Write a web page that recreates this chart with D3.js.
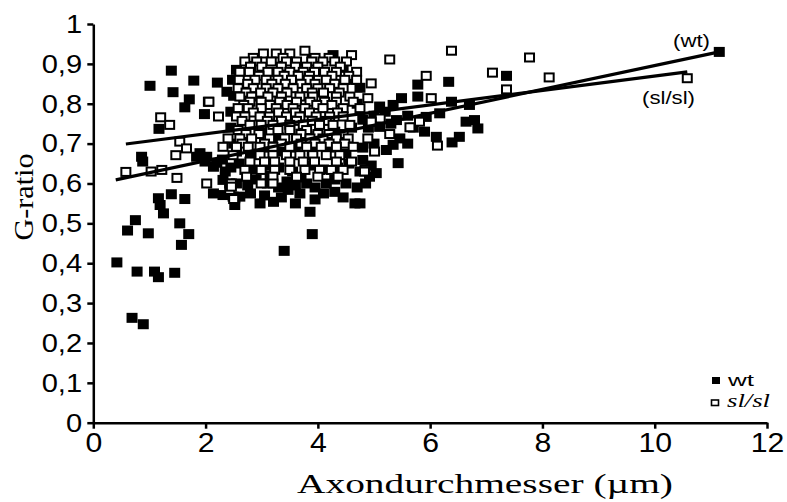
<!DOCTYPE html>
<html>
<head>
<meta charset="utf-8">
<script src="https://cdn.jsdelivr.net/npm/d3@7"></script>
<style>
  body { margin: 0; background: #fff; }
  svg { display: block; }
</style>
</head>
<body>
<div id="chart"></div>
<script>
// G-ratio vs. axon diameter, wt (filled) and sl/sl (open)
const xTicks = [0, 2, 4, 6, 8, 10, 12];
const yTicks = [0, 0.1, 0.2, 0.3, 0.4, 0.5, 0.6, 0.7, 0.8, 0.9, 1];
const yTickLabels = ["0", "0,1", "0,2", "0,3", "0,4", "0,5", "0,6", "0,7", "0,8", "0,9", "1"];

const wtPoints = [
    // lower left
    [0.42, 0.402], [0.61, 0.482], [0.75, 0.508], [0.98, 0.475], [0.78, 0.379], [1.09, 0.379],
    [1.16, 0.365], [1.45, 0.376], [0.69, 0.263], [0.89, 0.247], [1.54, 0.500], [1.70, 0.473],
    [1.57, 0.446], [1.16, 0.563], [1.19, 0.546], [1.25, 0.525], [1.39, 0.573], [1.63, 0.561],
    // upper left
    [0.86, 0.667], [0.88, 0.655], [1.01, 0.845], [1.39, 0.883], [1.42, 0.829], [1.79, 0.858],
    [1.71, 0.811], [1.63, 0.791], [1.17, 0.737], [2.21, 0.853], [2.38, 0.830], [1.98, 0.774],
    // left edge of the cluster
    [1.84, 0.667], [1.99, 0.655], [1.90, 0.676], [2.02, 0.667], [2.20, 0.652], [2.14, 0.642],
    [2.30, 0.660], [2.35, 0.630], [2.14, 0.575], [2.31, 0.571], [2.49, 0.567], [2.31, 0.609],
    [2.43, 0.600], [2.52, 0.546],
    // cluster
    [2.61, 0.567], [2.97, 0.550], [3.21, 0.554], [3.47, 0.584], [3.68, 0.575], [3.86, 0.529],
    [4.30, 0.579], [4.66, 0.550], [2.80, 0.575], [3.05, 0.570], [3.35, 0.565], [3.95, 0.560],
    [4.10, 0.575], [4.45, 0.565], [3.60, 0.550],
    [2.55, 0.600], [2.75, 0.595], [2.90, 0.610], [3.10, 0.600], [3.30, 0.590], [3.45, 0.605],
    [3.60, 0.595], [3.80, 0.600], [3.95, 0.590], [4.15, 0.600], [4.30, 0.610], [4.50, 0.600],
    [4.70, 0.590], [4.85, 0.600], [3.15, 0.620], [3.70, 0.615],
    [2.45, 0.640], [2.60, 0.650], [2.85, 0.635], [3.05, 0.645], [3.30, 0.640], [3.55, 0.630],
    [3.85, 0.645], [4.10, 0.635], [4.35, 0.640], [4.55, 0.650], [4.75, 0.630], [4.95, 0.645],
    [2.55, 0.680], [2.80, 0.675], [3.05, 0.690], [3.35, 0.680], [3.60, 0.690], [3.90, 0.680],
    [4.20, 0.690], [4.50, 0.675], [4.80, 0.690], [5.00, 0.700],
    [2.65, 0.720], [3.00, 0.730], [3.30, 0.715], [3.70, 0.725], [4.00, 0.720], [4.30, 0.730],
    [4.60, 0.740], [4.90, 0.740], [2.45, 0.740], [2.50, 0.700],
    [2.45, 0.780], [2.50, 0.820], [2.48, 0.860], [2.55, 0.885], [3.90, 0.910], [4.27, 0.922],
    [4.45, 0.890], [4.70, 0.800], [4.80, 0.760], [4.60, 0.860], [4.75, 0.840],
    // below the cluster
    [3.90, 0.473], [3.40, 0.431],
    // right tail
    [5.78, 0.848], [6.33, 0.855], [7.36, 0.870], [5.49, 0.814], [5.78, 0.818], [6.38, 0.805],
    [6.70, 0.797], [6.17, 0.776], [5.93, 0.767], [6.64, 0.755], [6.79, 0.759], [6.85, 0.738],
    [6.52, 0.717], [6.39, 0.703], [6.11, 0.717], [5.46, 0.713], [5.34, 0.697], [5.43, 0.651],
    [5.04, 0.626], [4.92, 0.617], [4.75, 0.550], [5.10, 0.793], [5.34, 0.797], [5.40, 0.759],
    [5.10, 0.742], [4.80, 0.659], [5.22, 0.684], [5.20, 0.780], [5.60, 0.770], [5.70, 0.740],
    [5.90, 0.730], [5.00, 0.770], [5.30, 0.750], [5.60, 0.700],
    [11.15, 0.930]
];

const slPoints = [
    // cluster, row by row
    [3.03, 0.926], [3.26, 0.926], [3.50, 0.926], [3.77, 0.933], [4.60, 0.922],
    [2.85, 0.915], [3.38, 0.915], [3.95, 0.915], [4.20, 0.915],
    [2.70, 0.906], [2.91, 0.906], [3.17, 0.906], [3.44, 0.906], [3.62, 0.906], [3.89, 0.906],
    [4.09, 0.906], [4.30, 0.906], [4.51, 0.906],
    [2.80, 0.893], [3.00, 0.893], [3.35, 0.893], [3.60, 0.893], [3.80, 0.893], [4.00, 0.893],
    [4.40, 0.893],
    [2.61, 0.880], [2.78, 0.880], [3.11, 0.880], [3.29, 0.880], [3.50, 0.880], [3.74, 0.880],
    [3.94, 0.880], [4.12, 0.880], [4.33, 0.880], [4.69, 0.880],
    [2.95, 0.870], [3.40, 0.870], [3.65, 0.870], [3.85, 0.870], [4.25, 0.870], [4.55, 0.870],
    [2.60, 0.860], [2.88, 0.860], [3.08, 0.860], [3.29, 0.860], [3.53, 0.860], [3.83, 0.860],
    [4.15, 0.860], [4.48, 0.860], [4.69, 0.860],
    [2.75, 0.850], [3.18, 0.850], [3.42, 0.850], [3.70, 0.850], [3.95, 0.850], [4.30, 0.850],
    [2.58, 0.839], [2.85, 0.839], [3.08, 0.839], [3.29, 0.839], [3.56, 0.839], [3.80, 0.839],
    [4.00, 0.839], [4.21, 0.839], [4.45, 0.839],
    [2.72, 0.828], [2.98, 0.828], [3.20, 0.828], [3.45, 0.828], [3.90, 0.828], [4.10, 0.828],
    [4.38, 0.828],
    [2.61, 0.818], [2.82, 0.818], [3.11, 0.818], [3.35, 0.818], [3.68, 0.818], [3.91, 0.818],
    [4.33, 0.818], [4.57, 0.818],
    [2.05, 0.805], [2.79, 0.805], [2.99, 0.805], [3.32, 0.805], [3.62, 0.805], [3.86, 0.805],
    [4.12, 0.805], [4.33, 0.805], [4.63, 0.805],
    [2.68, 0.797], [3.15, 0.797], [3.45, 0.797], [3.98, 0.797], [4.25, 0.797],
    [2.58, 0.789], [2.76, 0.789], [2.99, 0.789], [3.26, 0.789], [3.56, 0.789], [3.77, 0.789],
    [4.09, 0.789], [4.45, 0.789], [4.75, 0.789],
    [2.85, 0.778], [3.30, 0.778], [3.60, 0.778], [3.85, 0.778], [4.35, 0.778],
    [2.23, 0.768], [2.55, 0.768], [2.70, 0.768], [2.97, 0.768], [3.14, 0.768], [3.44, 0.768],
    [3.68, 0.768], [3.97, 0.768], [4.21, 0.768], [4.45, 0.768],
    [2.65, 0.757], [3.10, 0.757], [3.35, 0.757], [3.62, 0.757], [3.90, 0.757], [4.15, 0.757],
    [2.79, 0.747], [2.99, 0.747], [3.20, 0.747], [3.50, 0.747], [3.74, 0.747], [4.03, 0.747],
    [4.27, 0.747], [4.57, 0.747],
    [2.58, 0.734], [3.29, 0.734], [3.50, 0.734], [3.80, 0.734],
    [2.72, 0.724], [2.95, 0.724], [3.70, 0.724], [4.00, 0.724], [4.20, 0.724], [4.45, 0.724],
    [2.40, 0.713], [2.61, 0.713], [2.82, 0.713], [3.14, 0.713], [3.41, 0.713], [3.62, 0.713],
    [3.86, 0.713], [4.09, 0.713], [4.33, 0.713], [4.54, 0.713],
    [2.65, 0.700], [3.05, 0.700], [3.35, 0.700], [3.70, 0.700], [3.95, 0.700], [4.20, 0.700],
    [4.48, 0.700],
    [2.31, 0.692], [2.55, 0.692], [2.76, 0.692], [2.97, 0.692], [3.20, 0.692], [3.50, 0.692],
    [3.80, 0.692], [4.06, 0.692], [4.33, 0.692], [4.63, 0.692],
    [2.49, 0.671], [2.97, 0.671], [3.20, 0.671], [3.44, 0.671], [3.68, 0.671], [3.91, 0.671],
    [4.15, 0.671], [4.39, 0.671],
    [2.79, 0.655], [3.05, 0.655], [3.23, 0.655], [3.50, 0.655], [3.74, 0.655], [3.94, 0.655],
    [4.33, 0.655], [4.60, 0.655],
    [2.70, 0.634], [2.99, 0.634], [3.23, 0.634], [3.50, 0.634], [3.77, 0.634], [4.03, 0.634],
    [4.24, 0.634], [4.45, 0.634], [4.84, 0.634],
    [2.73, 0.617], [3.20, 0.617], [3.62, 0.617], [4.00, 0.617], [4.36, 0.617],
    [2.02, 0.600], [2.46, 0.600], [2.99, 0.600], [3.20, 0.600],
    [2.43, 0.584], [2.52, 0.563],
    // right of the cluster
    [5.28, 0.911], [6.38, 0.933], [7.77, 0.916], [5.93, 0.870], [7.11, 0.878], [7.36, 0.836],
    [4.95, 0.851], [4.89, 0.814], [6.02, 0.814], [5.81, 0.755], [5.64, 0.741], [5.11, 0.763],
    [4.95, 0.755], [5.28, 0.724], [4.89, 0.713], [5.01, 0.680], [6.13, 0.695], [4.83, 0.630],
    [8.12, 0.866], [10.58, 0.864],
    // left of the cluster
    [0.58, 0.629], [1.03, 0.630], [1.22, 0.634], [1.49, 0.614], [1.47, 0.671], [1.54, 0.705],
    [1.66, 0.688], [1.20, 0.766], [1.36, 0.747], [2.06, 0.805], [2.46, 0.592], [2.50, 0.561]
];

// regression lines (end points)
const wtFit = [[0.40, 0.609], [11.15, 0.930]];
const slFit = [[0.58, 0.699], [10.58, 0.880]];

const width = 787, height = 502;

const svg = d3.select("#chart").append("svg")
    .attr("width", width)
    .attr("height", height);

const x = d3.scaleLinear().domain([0, 12]).range([93.3, 767]);
const y = d3.scaleLinear().domain([0, 1]).range([422.7, 24]);

const sq = { w: 11, h: 10 };

// filled squares (wt)
svg.append("g")
    .selectAll("rect")
    .data(wtPoints)
    .enter().append("rect")
    .attr("x", d => x(d[0]) - sq.w / 2)
    .attr("y", d => y(d[1]) - sq.h / 2)
    .attr("width", sq.w)
    .attr("height", sq.h)
    .attr("fill", "#000");

// open squares (sl/sl)
svg.append("g")
    .selectAll("rect")
    .data(slPoints)
    .enter().append("rect")
    .attr("x", d => x(d[0]) - sq.w / 2 + 1)
    .attr("y", d => y(d[1]) - sq.h / 2 + 1)
    .attr("width", sq.w - 2)
    .attr("height", sq.h - 2)
    .attr("fill", "#fff")
    .attr("stroke", "#000")
    .attr("stroke-width", 2);

// fit lines
const line = d3.line().x(d => x(d[0])).y(d => y(d[1]));
[wtFit, slFit].forEach(f => {
    svg.append("path")
        .attr("d", line(f))
        .attr("fill", "none")
        .attr("stroke", "#000")
        .attr("stroke-width", 3.2);
});

svg.append("text")
    .attr("x", 673).attr("y", 47)
    .attr("font-family", "Liberation Sans, Arial, sans-serif")
    .attr("font-size", 18)
    .attr("textLength", 37).attr("lengthAdjust", "spacingAndGlyphs")
    .text("(wt)");

svg.append("text")
    .attr("x", 642).attr("y", 104)
    .attr("font-family", "Liberation Sans, Arial, sans-serif")
    .attr("font-size", 18)
    .attr("textLength", 53).attr("lengthAdjust", "spacingAndGlyphs")
    .text("(sl/sl)");

// axes
const xAxis = d3.axisBottom(x)
    .tickValues(xTicks)
    .tickFormat(d3.format("d"))
    .tickSize(6)
    .tickSizeOuter(0)
    .tickPadding(4);

const yAxis = d3.axisLeft(y)
    .tickValues(yTicks)
    .tickFormat((d, i) => yTickLabels[i])
    .tickSize(6)
    .tickSizeOuter(0)
    .tickPadding(4);

const gx = svg.append("g")
    .attr("transform", `translate(0,${y(0)})`)
    .call(xAxis);

const gy = svg.append("g")
    .attr("transform", `translate(${x(0)},0)`)
    .call(yAxis);

[gx, gy].forEach(g => {
    g.select(".domain").attr("stroke", "#000").attr("stroke-width", 2.5);
    g.selectAll(".tick line").attr("stroke", "#000").attr("stroke-width", 2.5);
    g.selectAll(".tick text")
        .attr("fill", "#000")
        .attr("font-family", "Liberation Sans, Arial, sans-serif");
});
gx.selectAll(".tick text").attr("font-size", 27).attr("transform", "scale(1.12,1)");
gy.selectAll(".tick text").attr("font-size", 26).attr("transform", "scale(1.12,1)");

// axis titles
svg.append("text")
    .attr("x", 297).attr("y", 493)
    .attr("font-family", "Liberation Serif, Times New Roman, serif")
    .attr("font-size", 27)
    .attr("textLength", 376).attr("lengthAdjust", "spacingAndGlyphs")
    .text("Axondurchmesser (\u00b5m)");

svg.append("text")
    .attr("transform", "translate(33,197) rotate(-90)")
    .attr("text-anchor", "middle")
    .attr("font-family", "Liberation Serif, Times New Roman, serif")
    .attr("font-size", 28)
    .attr("textLength", 87).attr("lengthAdjust", "spacingAndGlyphs")
    .text("G-ratio");

// legend
const legend = svg.append("g");
legend.append("rect")
    .attr("x", 712).attr("y", 377).attr("width", 8).attr("height", 7)
    .attr("fill", "#000");
legend.append("text")
    .attr("x", 728).attr("y", 386)
    .attr("font-family", "Liberation Sans, Arial, sans-serif")
    .attr("font-size", 16)
    .attr("textLength", 26).attr("lengthAdjust", "spacingAndGlyphs")
    .text("wt");
legend.append("rect")
    .attr("x", 711.5).attr("y", 400).attr("width", 7).attr("height", 5.5)
    .attr("fill", "#fff").attr("stroke", "#000").attr("stroke-width", 1.6);
legend.append("text")
    .attr("x", 727).attr("y", 407)
    .attr("font-family", "Liberation Serif, Times New Roman, serif")
    .attr("font-style", "italic")
    .attr("font-size", 18)
    .attr("textLength", 43).attr("lengthAdjust", "spacingAndGlyphs")
    .text("sl/sl");
</script>
</body>
</html>
